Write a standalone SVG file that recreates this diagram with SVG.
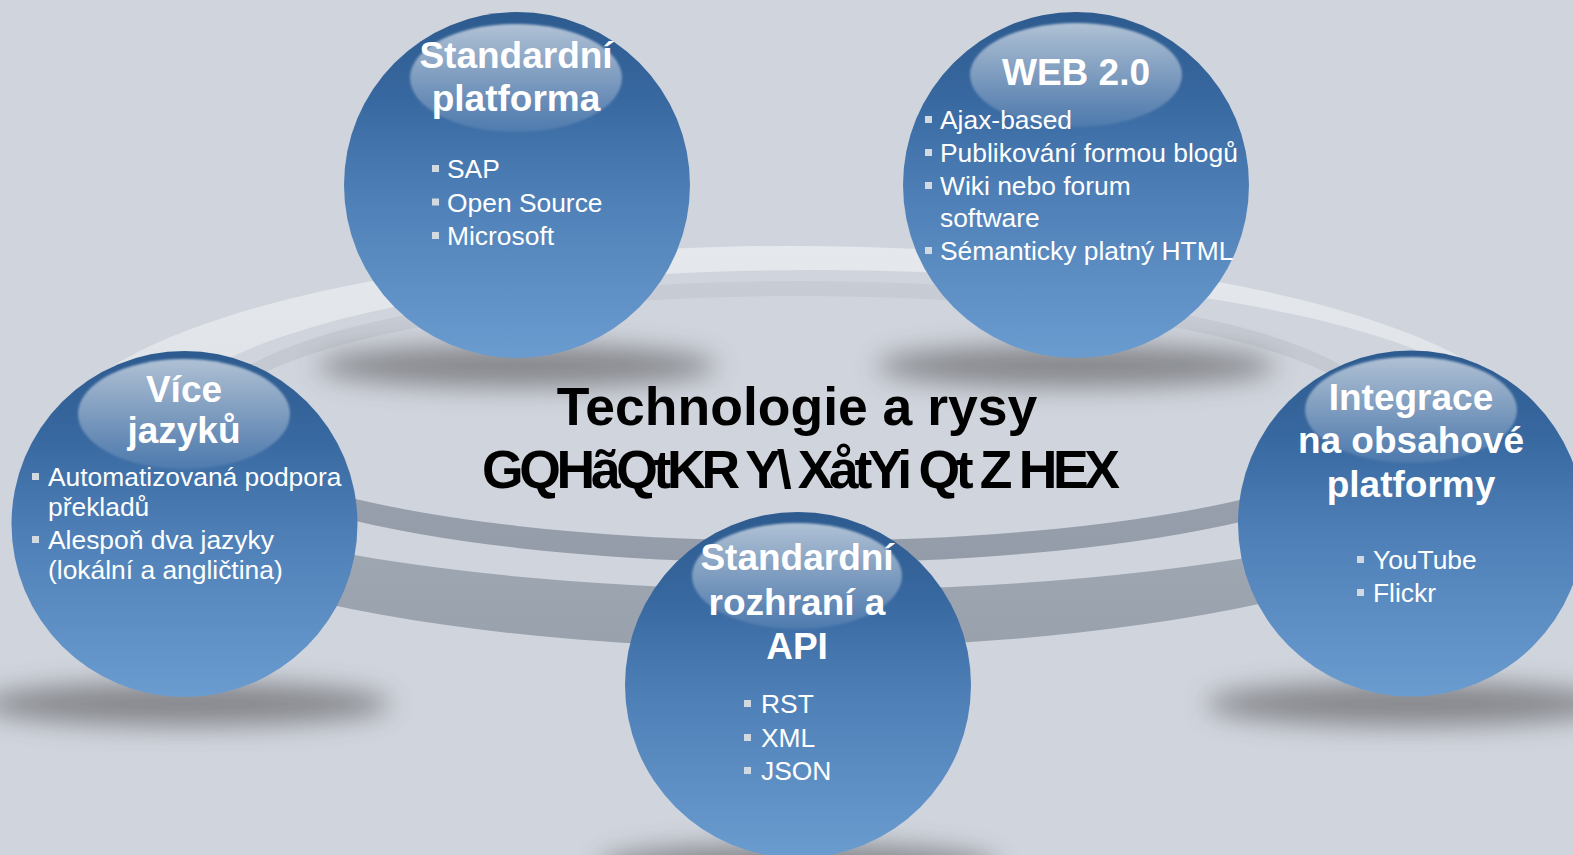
<svg xmlns="http://www.w3.org/2000/svg" width="1573" height="855" viewBox="0 0 1573 855">
<defs>
  <linearGradient id="ballGrad" x1="0" y1="0" x2="0" y2="1">
    <stop offset="0" stop-color="#2D5B8F"/>
    <stop offset="0.25" stop-color="#3868A0"/>
    <stop offset="0.55" stop-color="#4F81B8"/>
    <stop offset="1" stop-color="#6A9CD0"/>
  </linearGradient>
  <linearGradient id="glossGrad" x1="0" y1="0" x2="0" y2="1">
    <stop offset="0" stop-color="#FFFFFF" stop-opacity="0.62"/>
    <stop offset="0.5" stop-color="#FFFFFF" stop-opacity="0.36"/>
    <stop offset="1" stop-color="#FFFFFF" stop-opacity="0.08"/>
  </linearGradient>
  <linearGradient id="outerRingGrad" gradientUnits="userSpaceOnUse" x1="0" y1="246" x2="0" y2="648">
    <stop offset="0" stop-color="#E5E8EC"/>
    <stop offset="0.32" stop-color="#E0E3E7"/>
    <stop offset="0.58" stop-color="#A3ABB5"/>
    <stop offset="1" stop-color="#98A1AC"/>
  </linearGradient>
  <linearGradient id="innerRingGrad" gradientUnits="userSpaceOnUse" x1="0" y1="281" x2="0" y2="563">
    <stop offset="0" stop-color="#C8CCD4"/>
    <stop offset="0.4" stop-color="#C3C7CF"/>
    <stop offset="0.65" stop-color="#98A1AD"/>
    <stop offset="1" stop-color="#939CA8"/>
  </linearGradient>
  <filter id="shadowBlur" x="-50%" y="-200%" width="200%" height="500%">
    <feGaussianBlur stdDeviation="13"/>
  </filter>
  <filter id="glossBlur" x="-10%" y="-10%" width="120%" height="120%">
    <feGaussianBlur stdDeviation="1.2"/>
  </filter>
</defs>
<style>
  .ball{fill:url(#ballGrad)}
  .gloss{fill:url(#glossGrad);filter:url(#glossBlur)}
  .shadow{fill:#48484C;opacity:0.55;filter:url(#shadowBlur)}
  .title{font-family:"Liberation Sans",Arial,sans-serif;font-weight:bold;font-size:37px;fill:#FFFFFF;text-anchor:middle}
  .item{font-family:"Liberation Sans",Arial,sans-serif;font-size:26.4px;fill:#FFFFFF}
  .bullet{fill:#D3D9E1}
  .center{font-family:"Liberation Sans",Arial,sans-serif;font-weight:bold;font-size:53.5px;fill:#000000}
</style>

<rect x="0" y="0" width="1573" height="855" fill="#D0D4DC"/>

<g id="ring">
  <path fill="url(#outerRingGrad)" fill-rule="evenodd" d="M50,447 A740,201 0 0 1 790,246 A750,201 0 0 1 1540,447 A750,201 0 0 1 790,648 A740,201 0 0 1 50,447 Z M160,430 A650,160 0 0 1 810,270 A700,160 0 0 1 1510,430 L1535,430 A725,160 0 0 1 810,590 A730,160 0 0 1 80,430 Z"/>
  <path fill="url(#innerRingGrad)" fill-rule="evenodd" d="M210,413 A590,132 0 0 1 800,281 A580,132 0 0 1 1380,413 L1400,413 A600,128 0 0 1 800,541 A600,128 0 0 1 200,413 Z M210,428 A590,132 0 0 1 800,296 A580,132 0 0 1 1380,428 L1400,435 A600,128 0 0 1 800,563 A600,128 0 0 1 200,435 Z"/>
</g>

<g id="shadows">
  <ellipse class="shadow" cx="517" cy="366" rx="200" ry="21"/>
  <ellipse class="shadow" cx="1076" cy="366" rx="200" ry="21"/>
  <ellipse class="shadow" cx="186" cy="704" rx="205" ry="22"/>
  <ellipse class="shadow" cx="1411" cy="704" rx="205" ry="22"/>
  <ellipse class="shadow" cx="798" cy="866" rx="200" ry="22"/>
</g>

<g id="connectors"></g>

<g id="center-title">
  <text class="center" x="797" y="425" text-anchor="middle">Technologie a rysy</text>
  <text class="center" x="482" y="488" textLength="638" lengthAdjust="spacing">GQHãQtKR Y\ XåtYi Qt Z HEX</text>
</g>

<g id="node-standardni-platforma">
  <circle class="ball" cx="517" cy="185" r="173"/>
  <ellipse class="gloss" cx="516" cy="78" rx="106" ry="54"/>
  <text class="title" x="516" y="68">Standardní</text>
  <text class="title" x="516" y="111">platforma</text>
  <rect class="bullet" x="432" y="165" width="7" height="7"/>
  <text class="item" x="447" y="178">SAP</text>
  <rect class="bullet" x="432" y="198.5" width="7" height="7"/>
  <text class="item" x="447" y="211.5">Open Source</text>
  <rect class="bullet" x="432" y="232" width="7" height="7"/>
  <text class="item" x="447" y="245">Microsoft</text>
</g>

<g id="node-web20">
  <circle class="ball" cx="1076" cy="185" r="173"/>
  <ellipse class="gloss" cx="1076" cy="75" rx="106" ry="52"/>
  <text class="title" x="1076" y="85">WEB 2.0</text>
  <rect class="bullet" x="925" y="116" width="7" height="7"/>
  <text class="item" x="940" y="129">Ajax-based</text>
  <rect class="bullet" x="925" y="149" width="7" height="7"/>
  <text class="item" x="940" y="162">Publikování formou blogů</text>
  <rect class="bullet" x="925" y="182" width="7" height="7"/>
  <text class="item" x="940" y="195">Wiki nebo forum</text>
  <text class="item" x="940" y="227">software</text>
  <rect class="bullet" x="925" y="247" width="7" height="7"/>
  <text class="item" x="940" y="260">Sémanticky platný HTML</text>
</g>

<g id="node-vice-jazyku">
  <circle class="ball" cx="184.5" cy="524" r="173"/>
  <ellipse class="gloss" cx="184" cy="414" rx="106" ry="55"/>
  <text class="title" x="184" y="402">Více</text>
  <text class="title" x="184" y="443">jazyků</text>
  <rect class="bullet" x="32" y="473" width="7" height="7"/>
  <text class="item" x="48" y="486">Automatizovaná podpora</text>
  <text class="item" x="48" y="516">překladů</text>
  <rect class="bullet" x="32" y="536" width="7" height="7"/>
  <text class="item" x="48" y="549">Alespoň dva jazyky</text>
  <text class="item" x="48" y="579">(lokální a angličtina)</text>
</g>

<g id="node-integrace">
  <circle class="ball" cx="1411" cy="523.5" r="173"/>
  <ellipse class="gloss" cx="1411" cy="410" rx="106" ry="53"/>
  <text class="title" x="1411" y="410">Integrace</text>
  <text class="title" x="1411" y="453">na obsahové</text>
  <text class="title" x="1411" y="497">platformy</text>
  <rect class="bullet" x="1357" y="556" width="7" height="7"/>
  <text class="item" x="1373" y="569">YouTube</text>
  <rect class="bullet" x="1357" y="589" width="7" height="7"/>
  <text class="item" x="1373" y="602">Flickr</text>
</g>

<g id="node-standardni-rozhrani">
  <circle class="ball" cx="798" cy="685" r="173"/>
  <ellipse class="gloss" cx="797" cy="576" rx="105" ry="53"/>
  <text class="title" x="797" y="570">Standardní</text>
  <text class="title" x="797" y="615">rozhraní a</text>
  <text class="title" x="797" y="659">API</text>
  <rect class="bullet" x="744" y="700" width="7" height="7"/>
  <text class="item" x="761" y="713">RST</text>
  <rect class="bullet" x="744" y="734" width="7" height="7"/>
  <text class="item" x="761" y="747">XML</text>
  <rect class="bullet" x="744" y="767" width="7" height="7"/>
  <text class="item" x="761" y="780">JSON</text>
</g>
</svg>
